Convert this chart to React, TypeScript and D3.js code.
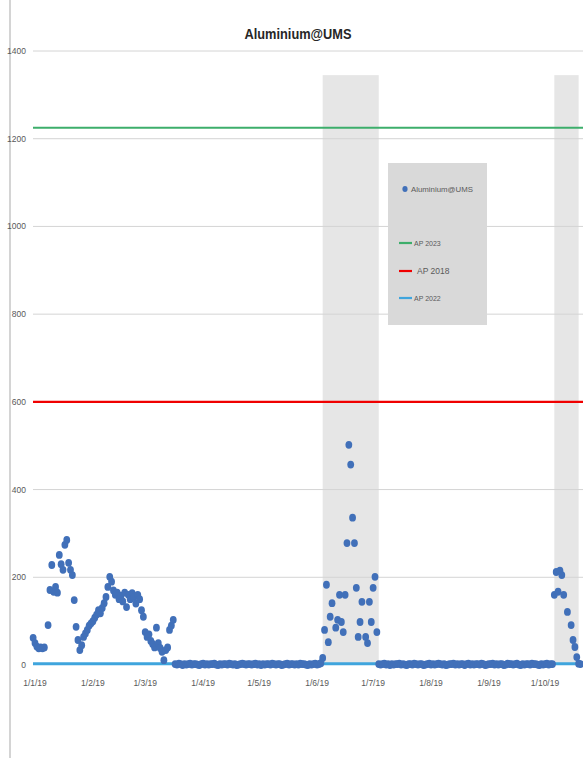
import React from "react";
import * as d3 from "d3";

// ---------- DATA ----------
const chartTitle = "Aluminium@UMS";
const seriesName = "Aluminium@UMS";
const firstSampleDate = "2018-12-31"; // one sample per day from here on

// daily values, 31 Dec 2018 .. 14 Mar 2019
const aluminiumJanMar: (number | null)[] = [
  62, 50, 42, 38, 40, 38, 40, null, 91, 171, 228, 167, 178, 165, 251, 230, 217, 274, 285, 233,
  217, 205, 148, 87, 57, 34, 45, 64, 72, 80, 90, 95, 100, 108, 115, 125, 118, 130, 141, 155,
  178, 201, 190, 170, 160, 165, 150, 158, 145, 165, 132, 160, 150, 164, 155, 140, 160, 150, 125, 110,
  75, 64, 70, 55, 48, 40, 85, 50, 39, 30, 11, 34, 40, 80, 90, 103,
];
// 15 Mar .. 1 Jun 2019
const aluminiumMarJun: (number | null)[] = [
  2, 1, 3, 2, 0, 2, 1, 2, 3, 1, 2, 2, 1, 0, 2, 3, 1, 2, 1, 2,
  2, 3, 1, 0, 2, 1, 2, 2, 1, 3, 2, 1, 2, 0, 1, 2, 3, 2, 1, 2,
  2, 1, 2, 3, 1, 2, 0, 2, 1, 2, 2, 1, 3, 2, 1, 2, 2, 0, 1, 2,
  3, 1, 2, 2, 1, 2, 1, 3, 2, 2, 1, 0, 2, 1, 2, 3, 1, 2,
];
// 2 Jun .. 2 Jul 2019
const aluminiumJunJul: (number | null)[] = [
  4, 16, 80, 183, 52, 110, 141, null, 85, 103, 160, 98, 75, 160, 278, 502, 457, 336, 278, 176,
  64, 98, 144, null, 64, 50, 144, 98, 176, 201, 75,
];
// 3 Jul .. 4 Oct 2019
const aluminiumJulOct: (number | null)[] = [
  2, 1, 2, 3, 1, 2, 0, 2, 1, 2, 2, 3, 1, 2, 1, 0, 2, 2, 1, 3,
  2, 1, 2, 2, 0, 1, 2, 3, 1, 2, 1, 2, 3, 2, 1, 2, 0, 1, 2, 2,
  3, 1, 2, 1, 2, 2, 0, 2, 3, 1, 2, 1, 2, 2, 1, 3, 2, 0, 1, 2,
  2, 3, 1, 2, 1, 2, 2, 0, 1, 3, 2, 2, 1, 2, 3, 1, 0, 2, 1, 2,
  2, 1, 3, 2, 2, 1, 0, 2, 1, 2, 3, 1, 2, 2,
];
// 5 Oct .. 19 Oct 2019
const aluminiumOct: (number | null)[] = [160, 212, 167, 215, 205, 160, null, 121, null, 91, 57, 41, 18, 3, 2];

const limitNames = ["AP 2023", "AP 2018", "AP 2022"];
const limitValues = [1225, 600, 3];
const limitColors = ["#3dae6b", "#f00000", "#3fa5dd"];

const shadedStarts = ["2019-06-04", "2019-10-06"];
const shadedEnds = ["2019-07-04", "2019-10-19"];
const shadedTop = 1345;

const yTicks = [0, 200, 400, 600, 800, 1000, 1200, 1400];
const xTickDates = [
  "2019-01-01", "2019-02-01", "2019-03-01", "2019-04-01", "2019-05-01",
  "2019-06-01", "2019-07-01", "2019-08-01", "2019-09-01", "2019-10-01",
];

// ---------- CHART ----------
const W = 583;
const H = 758;
const FONT = "'Liberation Sans', Arial, sans-serif";
const parse = d3.timeParse("%Y-%m-%d");
const fmt = d3.timeFormat("%-d/%-m/%y");

export default function App() {
  const x = d3
    .scaleTime()
    .domain([parse("2019-01-01")!, parse("2019-10-01")!])
    .range([35, 545]);
  const y = d3.scaleLinear().domain([0, 1400]).range([665, 51]);

  const start = parse(firstSampleDate)!;
  const all = [...aluminiumJanMar, ...aluminiumMarJun, ...aluminiumJunJul, ...aluminiumJulOct, ...aluminiumOct];
  const points = all
    .map((v, i) => ({ d: d3.timeDay.offset(start, i), v }))
    .filter((p) => p.v !== null) as { d: Date; v: number }[];

  const plotLeft = 33;
  const plotRight = 600;

  return (
    <svg
      width={W}
      height={H}
      style={{ position: "absolute", left: 0, top: 0, background: "#fff" }}
      fontFamily={FONT}
    >
      <rect x={0} y={0} width={W} height={H} fill="#fff" />
      <line x1={10} x2={10} y1={0} y2={H} stroke="#c6c6c6" strokeWidth={1.5} />

      {/* shaded periods */}
      {shadedStarts.map((s, i) => {
        const x0 = x(parse(s)!);
        const x1 = x(parse(shadedEnds[i])!);
        return (
          <rect key={s} x={x0} y={y(shadedTop)} width={x1 - x0} height={y(0) - y(shadedTop)} fill="#e6e6e6" />
        );
      })}

      {/* grid + y labels */}
      {yTicks.map((t) => (
        <g key={t}>
          {t > 0 && <line x1={plotLeft} x2={plotRight} y1={y(t)} y2={y(t)} stroke="#d4d4d4" strokeWidth={1} />}
          <text x={26} y={y(t) + 3} fontSize={8.5} fill="#595959" textAnchor="end">
            {t}
          </text>
        </g>
      ))}

      {/* x labels */}
      {xTickDates.map((s) => (
        <text key={s} x={x(parse(s)!)} y={686} fontSize={8.5} fill="#595959" textAnchor="middle">
          {fmt(parse(s)!)}
        </text>
      ))}

      {/* limit lines (green and red) */}
      {limitValues.slice(0, 2).map((v, i) => (
        <line key={limitNames[i]} x1={plotLeft} x2={plotRight} y1={y(v)} y2={y(v)} stroke={limitColors[i]} strokeWidth={2.2} />
      ))}
      <line x1={plotLeft} x2={plotRight} y1={y(limitValues[2])} y2={y(limitValues[2])} stroke={limitColors[2]} strokeWidth={3} />

      {/* scatter */}
      {points.map((p, i) => (
        <ellipse key={i} cx={x(p.d)} cy={y(p.v)} rx={3.4} ry={3.9} fill="#4170b9" />
      ))}

      {/* title */}
      <text x={298} y={39} fontSize={15} fontWeight="bold" textAnchor="middle" fill="#262626" textLength={107} lengthAdjust="spacingAndGlyphs">
        {chartTitle}
      </text>

      {/* legend */}
      <rect x={388} y={163} width={99} height={162} fill="#d9d9d9" />
      <ellipse cx={405} cy={189} rx={2.6} ry={3} fill="#4170b9" />
      <text x={411} y={192} fontSize={7} fill="#595959" textLength={62} lengthAdjust="spacingAndGlyphs">
        {seriesName}
      </text>
      {limitNames.map((n, i) => {
        const ly = [243, 271, 298][i];
        return (
          <g key={n}>
            <line x1={399} x2={412} y1={ly} y2={ly} stroke={limitColors[i]} strokeWidth={2.2} />
            <text x={i === 1 ? 417 : 414} y={ly + 3} fontSize={i === 1 ? 8.5 : 7} fill="#595959">
              {n}
            </text>
          </g>
        );
      })}
    </svg>
  );
}
